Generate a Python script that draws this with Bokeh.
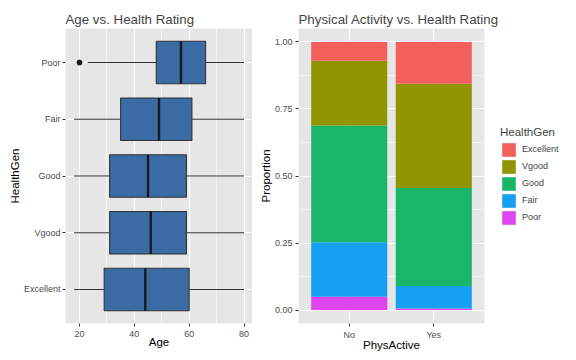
from bokeh.plotting import figure
from bokeh.layouts import row
from bokeh.models import (Range1d, FixedTicker, SingleIntervalTicker, ColumnDataSource,
                          Legend, LegendItem, CustomJSTickFormatter)
from bokeh.embed import file_html
from bokeh.resources import INLINE

# ---------------- data ----------------
health_levels = ["Excellent", "Vgood", "Good", "Fair", "Poor"]   # bottom -> top on left chart
age_q1 = [29, 31, 31, 35, 48]
age_median = [44, 46, 45, 49, 57]
age_q3 = [60, 59, 59, 61, 66]
age_whisker_lo = [18, 18, 18, 18, 23]
age_whisker_hi = [80, 80, 80, 80, 80]
outlier_level = ["Poor"]
outlier_age = [20]

phys_active = ["No", "Yes"]
stack_order = ["Poor", "Fair", "Good", "Vgood", "Excellent"]     # bottom -> top of stack
prop_poor = [0.050, 0.006]
prop_fair = [0.203, 0.084]
prop_good = [0.435, 0.365]
prop_vgood = [0.242, 0.389]
prop_excellent = [0.070, 0.156]

colors = {"Excellent": "#F35F5B", "Vgood": "#939500", "Good": "#19B66A",
          "Fair": "#15A0F1", "Poor": "#DF46EE"}

FONT = "Liberation Sans"
BG = "#E6E6E6"


def style(p):
    p.background_fill_color = BG
    p.border_fill_color = "white"
    p.outline_line_color = None
    for ax in (p.xaxis[0], p.yaxis[0]):
        ax.axis_line_color = None
        ax.major_tick_line_color = "#333333"
        ax.major_tick_line_width = 1
        ax.major_tick_out = 3
        ax.major_tick_in = 0
        ax.minor_tick_line_color = None
        ax.major_label_text_font = FONT
        ax.major_label_text_font_size = "9px"
        ax.major_label_text_color = "#4D4D4D"
        ax.major_label_standoff = 2
        ax.axis_label_text_font = FONT
        ax.axis_label_text_font_size = "11.5px"
        ax.axis_label_text_font_style = "normal"
        ax.axis_label_text_color = "black"
        ax.axis_label_standoff = 0
    p.xaxis.major_label_standoff = 3
    p.xaxis.axis_label_standoff = -4
    for g in (p.xgrid[0], p.ygrid[0]):
        g.grid_line_color = "white"
        g.grid_line_width = 1.1
    p.title.text_font = FONT
    p.title.text_font_size = "13.3px"
    p.title.text_font_style = "normal"
    p.title.align = "left"
    p.title.vertical_align = "top"
    p.title.standoff = 0
    p.title.offset = 0


# ---------------- left: boxplot ----------------
ypos = [health_levels.index(h) + 1 for h in health_levels]
src = ColumnDataSource(dict(y=ypos, q1=age_q1, med=age_median, q3=age_q3,
                            lo=age_whisker_lo, hi=age_whisker_hi,
                            y0=[v - 0.375 for v in ypos], y1=[v + 0.375 for v in ypos]))

p1 = figure(frame_width=187, frame_height=295, output_backend="svg", toolbar_location=None,
            x_range=Range1d(14.9, 83.1), y_range=Range1d(0.4, 5.6),
            title="Age vs. Health Rating", x_axis_label="Age", y_axis_label="HealthGen",
            min_border_left=65, min_border_right=0, min_border_top=28, min_border_bottom=37)
p1.xaxis.ticker = SingleIntervalTicker(interval=20, num_minor_ticks=2)
p1.yaxis.ticker = FixedTicker(ticks=ypos)
p1.yaxis.major_label_overrides = {v: h for v, h in zip(ypos, health_levels)}
style(p1)
p1.xgrid.minor_grid_line_color = "white"
p1.xgrid.minor_grid_line_width = 0.55

p1.segment(x0="lo", x1="q1", y0="y", y1="y", source=src, line_color="#333333", line_width=1.1)
p1.segment(x0="q3", x1="hi", y0="y", y1="y", source=src, line_color="#333333", line_width=1.1)
p1.hbar(y="y", left="q1", right="q3", height=0.75, source=src,
        fill_color="#3A6BA5", line_color="#333333", line_width=1.1)
p1.segment(x0="med", x1="med", y0="y0", y1="y1", source=src, line_color="#1A1A1A", line_width=2.4)
p1.scatter(x=outlier_age, y=[health_levels.index(o) + 1 for o in outlier_level],
           size=5, color="#1A1A1A")

# ---------------- right: stacked proportions ----------------
xpos = [1, 2]
src2 = ColumnDataSource(dict(x=xpos, Poor=prop_poor, Fair=prop_fair, Good=prop_good,
                             Vgood=prop_vgood, Excellent=prop_excellent))
p2 = figure(frame_width=186, frame_height=295, output_backend="svg", toolbar_location=None,
            x_range=Range1d(0.4, 2.6), y_range=Range1d(-0.05, 1.05),
            title="Physical Activity vs. Health Rating", x_axis_label="PhysActive",
            y_axis_label="Proportion",
            min_border_left=46, min_border_right=0, min_border_top=28, min_border_bottom=37)
p2.xaxis.ticker = FixedTicker(ticks=xpos)
p2.xaxis.major_label_overrides = {v: n for v, n in zip(xpos, phys_active)}
p2.yaxis.ticker = SingleIntervalTicker(interval=0.25, num_minor_ticks=2)
p2.yaxis.formatter = CustomJSTickFormatter(code="return tick.toFixed(2);")
style(p2)
p2.ygrid.minor_grid_line_color = "white"
p2.ygrid.minor_grid_line_width = 0.55

rends = p2.vbar_stack(stack_order, x="x", width=0.9, source=src2,
                      color=[colors[s] for s in stack_order], line_color=None)
items = [LegendItem(label=s, renderers=[r]) for s, r in zip(stack_order, rends)][::-1]
legend = Legend(items=items, title="HealthGen", location="center_left")
legend.title_text_font = FONT
legend.title_text_font_size = "11.5px"
legend.title_text_font_style = "normal"
legend.title_standoff = 3
legend.label_text_font = FONT
legend.label_text_font_size = "9px"
legend.glyph_width = 17
legend.glyph_height = 17
legend.label_height = 17
legend.label_standoff = 5
legend.spacing = 0
legend.margin = 16
legend.padding = 10
legend.border_line_color = None
legend.background_fill_alpha = 0
p2.add_layout(legend, "right")

layout = row(p1, p2)
open("out.html", "w").write(file_html(layout, INLINE))
